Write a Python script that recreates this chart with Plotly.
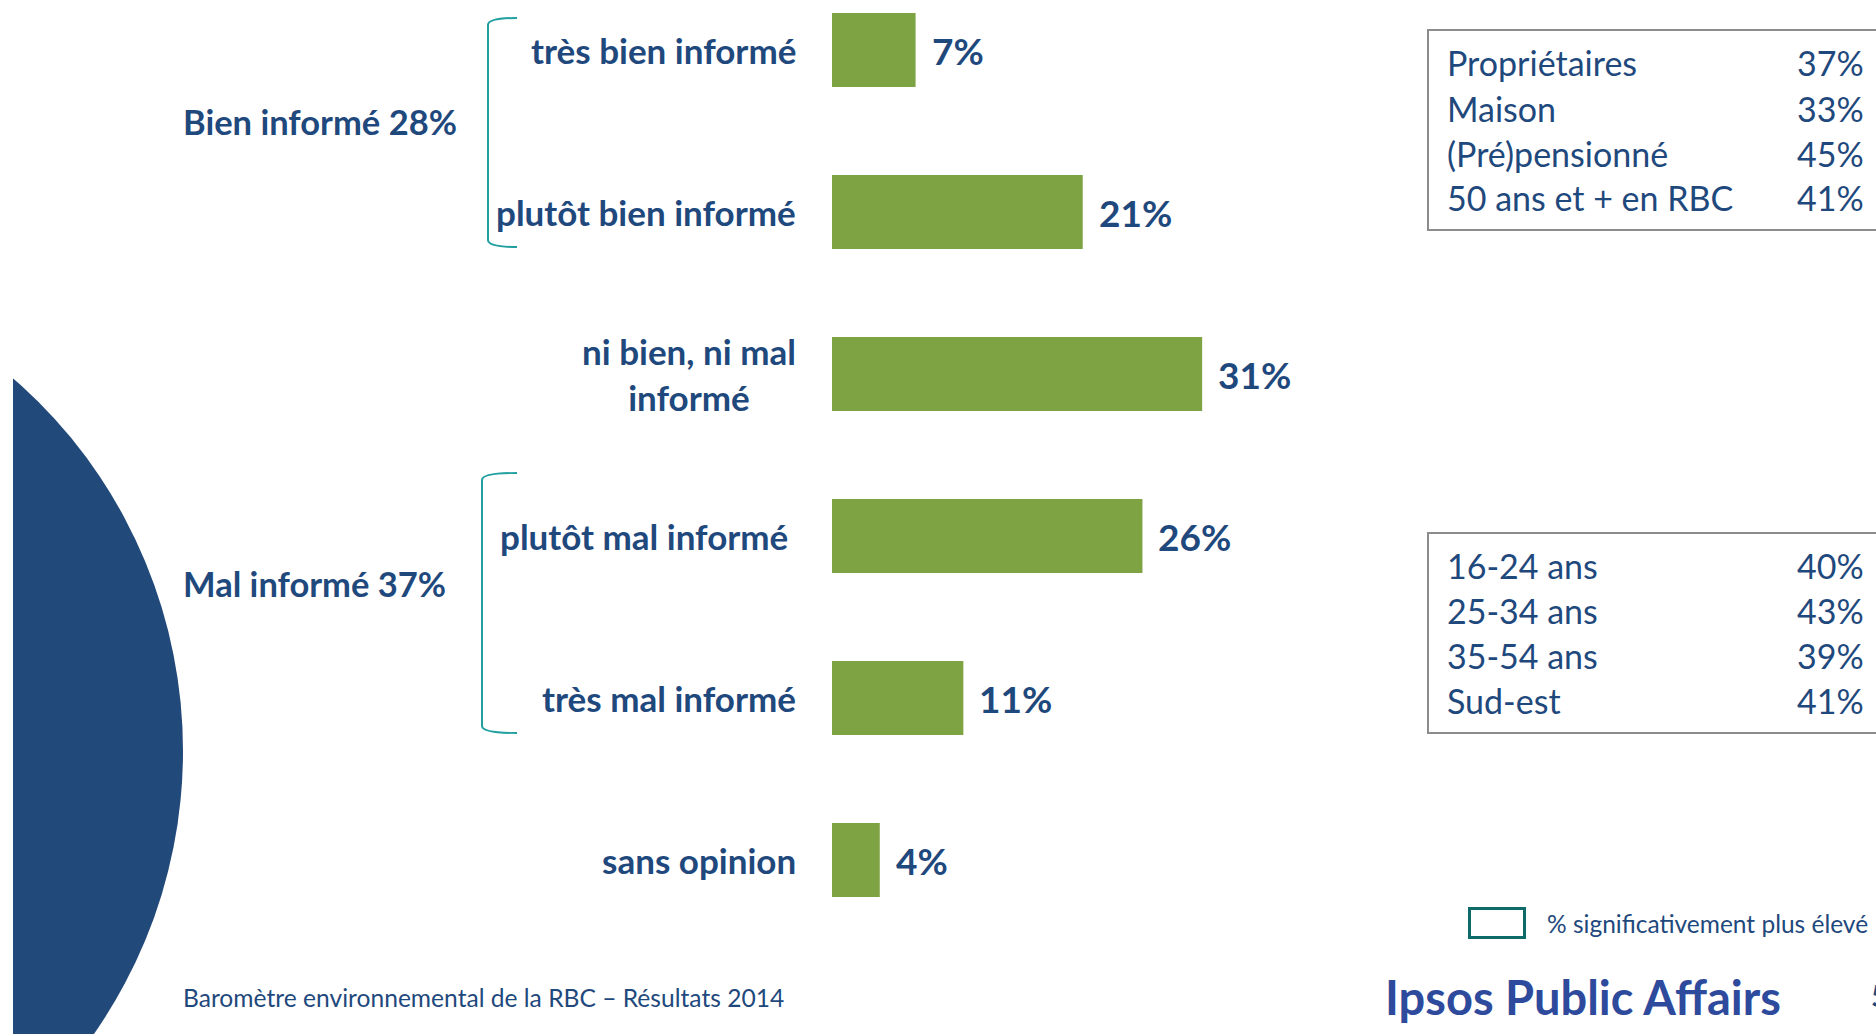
import plotly.graph_objects as go

# --- data -------------------------------------------------------------
categories = [
    "très bien informé",
    "plutôt bien informé",
    "ni bien, ni mal<br>informé",
    "plutôt mal informé",
    "très mal informé",
    "sans opinion",
]
values = [7, 21, 31, 26, 11, 4]

group_labels = ["Bien informé 28%", "Mal informé 37%"]

table_top_labels = ["Propriétaires", "Maison", "(Pré)pensionné", "50 ans et + en RBC"]
table_top_values = ["37%", "33%", "45%", "41%"]
table_bottom_labels = ["16-24 ans", "25-34 ans", "35-54 ans", "Sud-est"]
table_bottom_values = ["40%", "43%", "39%", "41%"]

legend_text = "% significativement plus élevé"
footer_text = "Baromètre environnemental de la RBC – Résultats 2014"
brand_text = "Ipsos Public Affairs"
page_number = "5"

# --- styling ----------------------------------------------------------
W, H = 1876, 1034
BLUE = "#1F497D"
GREEN = "#7EA342"
TEAL = "#22A0A0"
DARK_TEAL = "#0F6B6A"
FONT = "Lato"

PX_PER_PCT = 11.94
BAR_LEFT = 832
ROW0, ROW_STEP, BAR_H = 50, 162, 74

# per-label horizontal nudge (pixels) for the category captions
LABEL_NUDGE = {3: -8}


def px(x):
    return x / W


def py(y):
    return 1 - y / H


fig = go.Figure()

fig.add_trace(go.Bar(
    x=values,
    y=categories,
    orientation="h",
    marker=dict(color=GREEN, line=dict(width=0)),
    width=BAR_H / ROW_STEP,
    hoverinfo="skip",
))

annotations = []

# category labels, right-aligned next to the bars
for i, cat in enumerate(categories):
    annotations.append(dict(
        x=px(798), xref="paper", xanchor="right", xshift=LABEL_NUDGE.get(i, 0),
        y=cat, yref="y", yanchor="middle",
        text=f"<b>{cat}</b>", showarrow=False, align="center",
        font=dict(family=FONT, size=35, color=BLUE),
    ))

# value labels at the end of each bar
for cat, v in zip(categories, values):
    annotations.append(dict(
        x=v, xref="x", xanchor="left", xshift=14,
        y=cat, yref="y", yanchor="middle",
        text=f"<b>{v}%</b>", showarrow=False,
        font=dict(family=FONT, size=37, color=BLUE),
    ))

# group labels
for lab, yc in zip(group_labels, [121, 583]):
    annotations.append(dict(
        x=px(181), xref="paper", xanchor="left",
        y=py(yc), yref="paper", yanchor="middle",
        text=f"<b>{lab}</b>", showarrow=False,
        font=dict(family=FONT, size=34.5, color=BLUE),
    ))

# side tables
for labels, vals, y0 in [(table_top_labels, table_top_values, 63),
                         (table_bottom_labels, table_bottom_values, 565)]:
    for i, (lab, val) in enumerate(zip(labels, vals)):
        yc = y0 + 45 * i
        annotations.append(dict(
            x=px(1445), xref="paper", xanchor="left",
            y=py(yc), yref="paper", yanchor="middle",
            text=lab, showarrow=False,
            font=dict(family=FONT, size=34, color=BLUE),
        ))
        annotations.append(dict(
            x=px(1866), xref="paper", xanchor="right",
            y=py(yc), yref="paper", yanchor="middle",
            text=val, showarrow=False,
            font=dict(family=FONT, size=34, color=BLUE),
        ))

# legend, footer, brand
annotations.append(dict(
    x=px(1545), xref="paper", xanchor="left",
    y=py(923), yref="paper", yanchor="middle",
    text=legend_text, showarrow=False,
    font=dict(family=FONT, size=24.5, color=BLUE),
))
annotations.append(dict(
    x=px(181), xref="paper", xanchor="left",
    y=py(997), yref="paper", yanchor="middle",
    text=footer_text, showarrow=False,
    font=dict(family=FONT, size=24.6, color=BLUE),
))
annotations.append(dict(
    x=px(1383), xref="paper", xanchor="left",
    y=py(997), yref="paper", yanchor="middle",
    text=f"<b>{brand_text}</b>", showarrow=False,
    font=dict(family=FONT, size=47, color="#2E4A9C"),
))
annotations.append(dict(
    x=px(1869), xref="paper", xanchor="left",
    y=py(995), yref="paper", yanchor="middle",
    text=f"<b>{page_number}</b>", showarrow=False,
    font=dict(family=FONT, size=30, color=BLUE),
))


def bracket(x_vert, x_end, y_top, y_bot):
    r = 7
    return (f"M {px(x_end)} {py(y_top)} "
            f"Q {px(x_vert)} {py(y_top)} {px(x_vert)} {py(y_top + r)} "
            f"L {px(x_vert)} {py(y_bot - r)} "
            f"Q {px(x_vert)} {py(y_bot)} {px(x_end)} {py(y_bot)}")


CX, CY, R = -311, 751, 494

shapes = [
    # large decorative disc on the left
    dict(type="circle", xref="paper", yref="paper",
         x0=px(CX - R), x1=px(CX + R),
         y0=py(CY + R), y1=py(CY - R),
         fillcolor="#21497A", line=dict(width=0), layer="below"),
    dict(type="rect", xref="paper", yref="paper",
         x0=0, x1=px(13), y0=0, y1=1,
         fillcolor="white", line=dict(width=0), layer="below"),
    # brackets grouping the categories
    dict(type="path", xref="paper", yref="paper",
         path=bracket(488, 517, 18, 247),
         line=dict(color=TEAL, width=2)),
    dict(type="path", xref="paper", yref="paper",
         path=bracket(482, 517, 473, 733),
         line=dict(color=TEAL, width=2)),
    # table frames
    dict(type="rect", xref="paper", yref="paper",
         x0=px(1428), x1=px(1890), y0=py(230), y1=py(30),
         line=dict(color="#8C8C8C", width=2)),
    dict(type="rect", xref="paper", yref="paper",
         x0=px(1428), x1=px(1890), y0=py(733), y1=py(533),
         line=dict(color="#8C8C8C", width=2)),
    # legend swatch
    dict(type="rect", xref="paper", yref="paper",
         x0=px(1469.5), x1=px(1524.5), y0=py(937.5), y1=py(908.5),
         line=dict(color=DARK_TEAL, width=3)),
]

fig.update_layout(
    width=W, height=H,
    margin=dict(l=0, r=0, t=0, b=0),
    paper_bgcolor="white", plot_bgcolor="white",
    showlegend=False,
    xaxis=dict(range=[-BAR_LEFT / PX_PER_PCT, (W - BAR_LEFT) / PX_PER_PCT],
               visible=False, fixedrange=True),
    yaxis=dict(type="category", categoryorder="array", categoryarray=categories,
               range=[(H - ROW0) / ROW_STEP, -ROW0 / ROW_STEP],
               visible=False, fixedrange=True),
    annotations=annotations,
    shapes=shapes,
)

fig.write_html("out.html", config={"displayModeBar": False})
